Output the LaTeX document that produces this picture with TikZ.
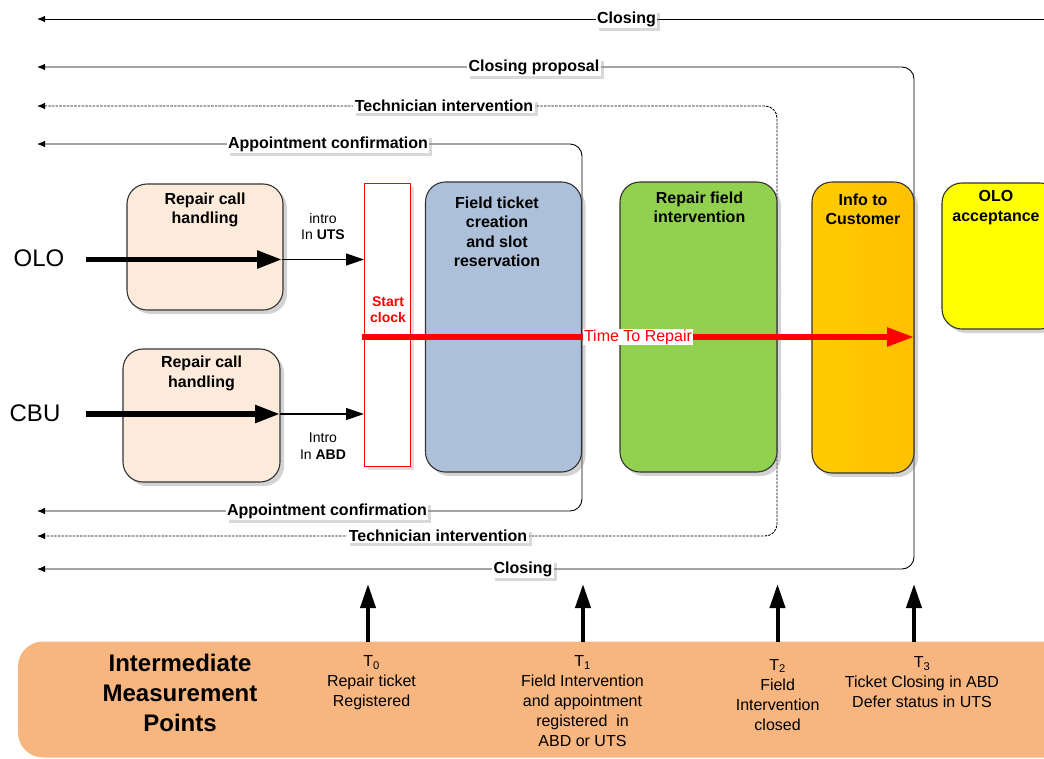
\documentclass[tikz,border=0pt]{standalone}
\usepackage{fontspec}
\setmainfont{Liberation Sans}
\usetikzlibrary{arrows.meta,shadows}

\definecolor{peach}{HTML}{FCEADB}
\definecolor{ftblue}{HTML}{ADC0DA}
\definecolor{rfgreen}{HTML}{92D050}
\definecolor{infoL}{HTML}{FFCC00}
\definecolor{infoR}{HTML}{FFC000}
\definecolor{oloyellow}{HTML}{FFFF00}
\definecolor{panelor}{HTML}{F7B57F}
\definecolor{edgegray}{HTML}{333333}
\definecolor{ttrred}{HTML}{FF0000}

\begin{document}
\begin{tikzpicture}[x=1pt,y=-1pt,
  box/.style={draw=edgegray, line width=1.1pt, rounded corners=20pt,
    drop shadow={shadow xshift=4pt, shadow yshift=-4pt, opacity=0.35}},
  boxtitle/.style={anchor=north, inner sep=0pt, align=center,
    font=\fontsize{16}{19.5}\selectfont\bfseries},
  flowlabel/.style={fill=white, inner sep=1.5pt,
    font=\fontsize{16}{18}\selectfont\bfseries,
    drop shadow={shadow xshift=3pt, shadow yshift=-3pt, opacity=0.3}},
  fb/.style={draw=black, line width=0.9pt, rounded corners=12pt,
    -{Latex[length=8pt,width=6.5pt]}},
  fbdash/.style={fb, dash pattern=on 2.5pt off 1.2pt},
  bigin/.style={line width=5.5pt, -{Triangle[length=25pt,width=17pt]}},
  thinin/.style={line width=1.3pt, -{Triangle[length=18pt,width=12pt]}},
  uparrow/.style={line width=4pt, -{Triangle[length=24pt,width=15pt]}},
  smalltxt/.style={anchor=north, inner sep=0pt, align=center,
    font=\fontsize{14}{16.5}\selectfont},
  mtxt/.style={anchor=north, inner sep=0pt, align=center,
    font=\fontsize{16}{20}\selectfont},
]
\useasboundingbox (0,0) rectangle (1044,758);

% ---------- feedback lines (drawn first, boxes cover them) ----------
\coordinate (clR) at (1060,19);
\coordinate (clL) at (37,19);
\draw[fb] (clR) -- (clL);
\node[flowlabel] (clLab) at (626.5,19) {Closing};

\coordinate (cpL) at (37,67);
\coordinate (cpC) at (914,67);
\coordinate (cpD) at (914,569);
\coordinate (cpLb) at (37,569);
\draw[fb, {Latex[length=8pt,width=6.5pt]}-{Latex[length=8pt,width=6.5pt]}] (cpL) -- (cpC) -- (cpD) -- (cpLb);
\node[flowlabel] (cpLab) at (534,67) {Closing proposal};
\node[flowlabel] (clbLab) at (523,569) {Closing};

\coordinate (tiL) at (37,106);
\coordinate (tiC) at (777,106);
\coordinate (tiD) at (777,536);
\coordinate (tiLb) at (37,536);
\draw[fbdash, {Latex[length=8pt,width=6.5pt]}-{Latex[length=8pt,width=6.5pt]}] (tiL) -- (tiC) -- (tiD) -- (tiLb);
\node[flowlabel] (tiLab) at (444,106) {Technician intervention};
\node[flowlabel] (tibLab) at (438,536) {Technician intervention};

\coordinate (acL) at (37,144);
\coordinate (acC) at (582,144);
\coordinate (acD) at (582,511);
\coordinate (acLb) at (37,511);
\draw[fb, {Latex[length=8pt,width=6.5pt]}-{Latex[length=8pt,width=6.5pt]}] (acL) -- (acC) -- (acD) -- (acLb);
\node[flowlabel] (acLab) at (328,144) {Appointment confirmation};
\node[flowlabel] (acbLab) at (327,511) {Appointment confirmation};

% ---------- process boxes ----------
\node[box, fill=peach, minimum width=156, minimum height=126] (rch1) at (205,247) {};
\node[boxtitle] (rch1t) at (205,192.5) {Repair call\\handling};

\node[box, fill=peach, minimum width=157, minimum height=133] (rch2) at (201.5,415.5) {};
\node[boxtitle] (rch2t) at (201.5,356) {Repair call\\handling};

\node[draw=ttrred, line width=1pt, fill=white, minimum width=46, minimum height=283,
  drop shadow={shadow xshift=3pt, shadow yshift=-3pt, opacity=0.25}] (sc) at (387.5,325) {};
\node[anchor=north, inner sep=0pt, align=center, text=ttrred,
  font=\fontsize{14}{16}\selectfont\bfseries] (sct) at (388,297) {Start\\clock};

\node[box, fill=ftblue, minimum width=156, minimum height=290] (ftc) at (503.5,327) {};
\node[boxtitle] (ftct) at (497,196.5) {Field ticket\\creation\\and slot\\reservation};

\node[box, fill=rfgreen, minimum width=157, minimum height=290] (rfi) at (698.5,327) {};
\node[boxtitle] (rfit) at (699.5,191.5) {Repair field\\intervention};

\node[box, left color=infoL, right color=infoR, minimum width=102, minimum height=291] (itc) at (863,327.5) {};
\node[boxtitle] (itct) at (863,193.5) {Info to\\Customer};

\node[box, fill=oloyellow, minimum width=118, minimum height=146] (oloa) at (1001,256) {};
\node[boxtitle] (oloat) at (996,190.5) {OLO\\acceptance};

% ---------- inputs ----------
\node[font=\fontsize{24}{24}\selectfont, inner sep=0pt] (olo) at (39,258) {OLO};
\node[font=\fontsize{24}{24}\selectfont, inner sep=0pt] (cbu) at (35,413) {CBU};

\coordinate (oloS) at (86,259.5);
\coordinate (oloM) at (282,259.5);
\coordinate (oloE) at (364,259.5);
\draw[bigin] (oloS) -- (oloM);
\draw[thinin] (oloM) -- (oloE);
\node[smalltxt] (introU) at (323,213) {intro\\In \textbf{UTS}};

\coordinate (cbuS) at (86,414);
\coordinate (cbuM) at (280,414);
\coordinate (cbuE) at (364,414);
\draw[bigin] (cbuS) -- (cbuM);
\draw[thinin] (cbuM) -- (cbuE);
\node[smalltxt] (introA) at (323,433) {Intro\\In \textbf{ABD}};

% ---------- Time To Repair ----------
\coordinate (ttrS) at (362,337);
\coordinate (ttrE) at (914,337);
\draw[draw=ttrred, line width=5.5pt, -{Triangle[length=27pt,width=18pt]}, ttrred] (ttrS) -- (ttrE);
\node[fill=white, text=ttrred, inner sep=1pt, font=\fontsize{16}{18}\selectfont] (ttrLab) at (638,337) {Time To Repair};

% ---------- measurement panel ----------
\node[fill=panelor, rounded corners=25pt, minimum width=1052, minimum height=116] (panel) at (544,699.5) {};
\node[anchor=north, inner sep=0pt, align=center,
  font=\fontsize{24}{30}\selectfont\bfseries] (imp) at (180,654.2) {Intermediate\\Measurement\\Points};

\node[mtxt] (t0) at (371.5,655.5) {T\textsubscript{0}\\Repair ticket\\Registered};
\node[mtxt] (t1) at (582.5,655.5) {T\textsubscript{1}\\Field Intervention\\and appointment\\registered\ \ in\\ABD or UTS};
\node[mtxt] (t2) at (777.6,659) {T\textsubscript{2}\\Field\\Intervention\\closed};
\node[mtxt] (t3) at (922,656.5) {T\textsubscript{3}\\Ticket Closing in ABD\\Defer status in UTS};

\coordinate (m0b) at (368,642); \coordinate (m0t) at (368,584);
\coordinate (m1b) at (583,642); \coordinate (m1t) at (583,584);
\coordinate (m2b) at (777.5,642); \coordinate (m2t) at (777.5,584);
\coordinate (m3b) at (914,642); \coordinate (m3t) at (914,584);
\draw[uparrow] (m0b) -- (m0t);
\draw[uparrow] (m1b) -- (m1t);
\draw[uparrow] (m2b) -- (m2t);
\draw[uparrow] (m3b) -- (m3t);
\end{tikzpicture}
\end{document}
